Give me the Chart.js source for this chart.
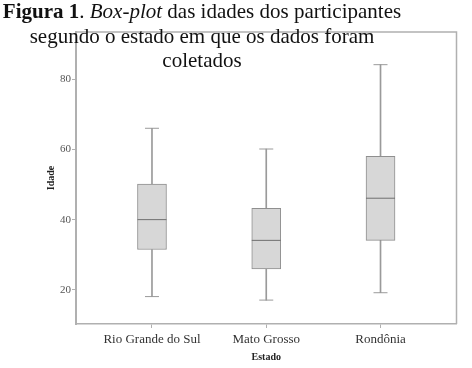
<!DOCTYPE html>
<html>
<head>
<meta charset="utf-8">
<script src="https://cdn.jsdelivr.net/npm/chart.js@4/dist/chart.umd.min.js"></script>
<style>
  html, body { margin: 0; padding: 0; background: #fff; overflow: hidden; }
  #wrap { position: relative; width: 472px; height: 368px; overflow: hidden; }
  #c { position: absolute; left: 0; top: 0; }
  #title { position: absolute; left: -28px; top: -1px; width: 460px; text-align: center; white-space: nowrap;
    font-family: "Liberation Serif", "DejaVu Serif", serif; font-size: 21px; line-height: 24.5px; color: #111; }
</style>
</head>
<body>
<div id="wrap">
  <canvas id="c" width="472" height="368"></canvas>
  <div id="title"><b>Figura 1</b>. <i>Box-plot</i> das idades dos participantes<br>segundo o estado em que os dados foram<br>coletados</div>
</div>
<script>
const categories = ["Rio Grande do Sul", "Mato Grosso", "Rondônia"];
const minVals    = [18.1, 17.1, 19.2];
const q1Vals     = [31.5, 26.0, 34.1];
const medianVals = [40.0, 34.1, 46.1];
const q3Vals     = [50.1, 43.2, 58.0];
const maxVals    = [66.0, 60.1, 84.1];
const yTicks     = [20, 40, 60, 80];

const pos = categories.map((_, i) => i + 1);
const serif = '"Liberation Serif", "DejaVu Serif", serif';
const frameColor = '#b0b0b0';

const framePlugin = {
  id: 'frame',
  afterDraw(chart) {
    const a = chart.chartArea, ctx = chart.ctx;
    ctx.save();
    ctx.strokeStyle = frameColor;
    ctx.lineWidth = 1.5;
    ctx.beginPath();
    ctx.moveTo(a.left, a.top); ctx.lineTo(a.right, a.top); ctx.lineTo(a.right, a.bottom);
    ctx.stroke();
    ctx.restore();
  }
};

new Chart(document.getElementById('c'), {
  type: 'bar',
  data: {
    datasets: [
      { type: 'bar', label: 'lower whisker', grouped: false, order: 4,
        data: pos.map((x, i) => ({ x, y: [minVals[i], q1Vals[i]] })),
        barThickness: 1, backgroundColor: '#9a9a9a', borderWidth: 0 },
      { type: 'bar', label: 'upper whisker', grouped: false, order: 4,
        data: pos.map((x, i) => ({ x, y: [q3Vals[i], maxVals[i]] })),
        barThickness: 1, backgroundColor: '#9a9a9a', borderWidth: 0 },
      { type: 'bar', label: 'box', grouped: false, order: 3,
        data: pos.map((x, i) => ({ x, y: [q1Vals[i], q3Vals[i]] })),
        barThickness: 29, backgroundColor: '#d7d7d7', borderColor: '#8f8f8f', borderWidth: 1, borderSkipped: false },
      { type: 'scatter', label: 'median', order: 1,
        data: pos.map((x, i) => ({ x, y: medianVals[i] })),
        pointStyle: 'line', pointRadius: 14.5, borderColor: '#6f6f6f', borderWidth: 1 },
      { type: 'scatter', label: 'caps', order: 1,
        data: pos.flatMap((x, i) => [{ x, y: minVals[i] }, { x, y: maxVals[i] }]),
        pointStyle: 'line', pointRadius: 7, borderColor: '#9a9a9a', borderWidth: 1 }
    ]
  },
  options: {
    responsive: false,
    animation: false,
    layout: { padding: { left: 45, right: 13, top: 32, bottom: 5 } },
    plugins: { legend: { display: false }, tooltip: { enabled: false }, title: { display: false } },
    scales: {
      x: {
        type: 'linear', min: 0.335, max: 3.665, offset: false,
        afterBuildTicks(s) { s.ticks = pos.map(v => ({ value: v })); },
        afterFit(s) { s.height = 39; },
        ticks: { callback: (v) => categories[v - 1] ?? '', color: '#333', padding: 4,
          font: { family: serif, size: 13 }, maxRotation: 0, autoSkip: false },
        grid: { display: true, drawOnChartArea: false, drawTicks: true, tickLength: 4, color: frameColor, offset: false },
        border: { display: true, color: frameColor, width: 1.5 },
        title: { display: true, text: 'Estado', color: '#222', padding: { top: 1, bottom: 0 },
          font: { family: serif, size: 10, weight: 'bold' } }
      },
      y: {
        type: 'linear', min: 10.3, max: 93.4,
        afterBuildTicks(s) { s.ticks = yTicks.map(v => ({ value: v })); },
        afterFit(s) { s.width = 31; },
        ticks: { color: '#555', padding: 1, font: { family: serif, size: 11 } },
        grid: { display: true, drawOnChartArea: false, drawTicks: true, tickLength: 4, color: frameColor },
        border: { display: true, color: frameColor, width: 2 },
        title: { display: true, text: 'Idade', color: '#222', padding: { top: 0, bottom: 0 },
          font: { family: serif, size: 10, weight: 'bold' } }
      }
    }
  },
  plugins: [framePlugin]
});
</script>
</body>
</html>
